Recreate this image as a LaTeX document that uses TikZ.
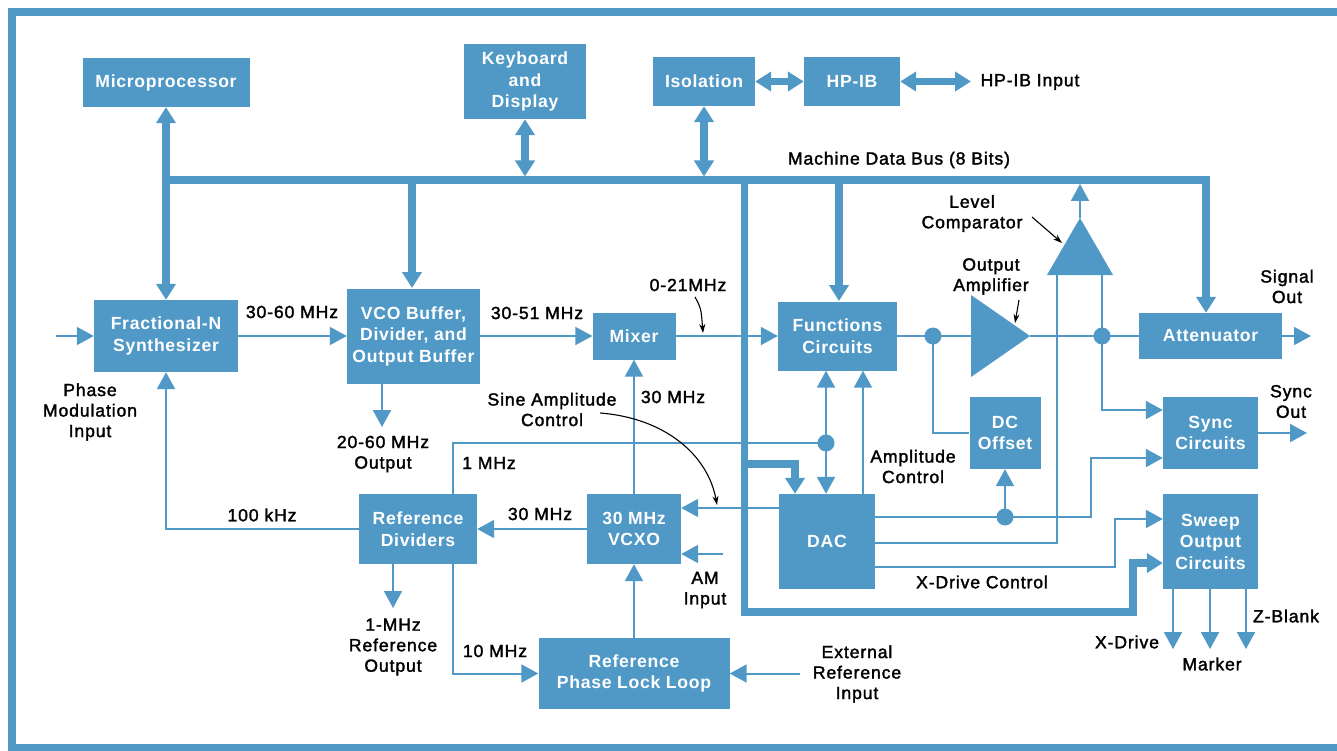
\documentclass[tikz,border=0pt]{standalone}
\usepackage{fontspec}
\setmainfont{Liberation Sans}
\newfontfamily\hplabfont[FakeBold=1.8,LetterSpace=5]{Liberation Sans}
\newfontfamily\hpboxfont[LetterSpace=4]{Liberation Sans}
\usetikzlibrary{arrows.meta}
\definecolor{hpblue}{RGB}{80,152,198}
\newcommand\hpbxf{\hpboxfont\fontsize{17.6}{21.5}\selectfont\bfseries}
\newcommand\hplbf{\hplabfont\fontsize{17.6}{20.5}\selectfont}
\begin{document}
\begin{tikzpicture}[x=1pt,y=-1pt,
  box/.style={fill=hpblue, text=white, font=\hpbxf, align=center, inner sep=0pt},
  lab/.style={font=\hplbf, align=center, inner sep=0pt, text=black},
  sig/.style={draw=hpblue, line width=2pt},
  arr/.style={sig, -{Triangle[length=17pt,width=18pt]}},
  bus/.style={draw=hpblue, line width=7.5pt},
  busarr/.style={bus, -{Triangle[length=16pt,width=19pt]}},
  dbl/.style={bus, {Triangle[length=16pt,width=19pt]}-{Triangle[length=16pt,width=19pt]}},
  dotn/.style={circle, fill=hpblue, minimum size=17pt, inner sep=0pt},
  note/.style={draw=black, line width=1.1pt, -{Stealth[length=9pt,width=6pt]}}
]
\useasboundingbox (0,0) rectangle (1337,751);
\fill[white] (0,0) rectangle (1337,751);
\begin{scope}
\clip (0,0) rectangle (1337,751);
\draw[hpblue, line width=8pt] (11.5,12) rectangle (1380,747.5);
\end{scope}

% boxes
\node[box, minimum width=167, minimum height=49] (micro) at (166,82.5) {Microprocessor};
\node[box, minimum width=122, minimum height=75] (kbd) at (525,81.5) {Keyboard\\and\\Display};
\node[box, minimum width=102, minimum height=49] (iso) at (704,81.5) {Isolation};
\node[box, minimum width=96, minimum height=49] (hpib) at (852,81.5) {HP-IB};
\node[box, minimum width=144, minimum height=72] (fracn) at (166,336) {Fractional-N\\Synthesizer};
\node[box, minimum width=133, minimum height=95] (vco) at (413.5,336) {VCO Buffer,\\Divider, and\\Output Buffer};
\node[box, minimum width=83, minimum height=47] (mixer) at (634,336) {Mixer};
\node[box, minimum width=119, minimum height=69] (func) at (837.5,336) {Functions\\Circuits};
\node[box, minimum width=143, minimum height=46] (atten) at (1210.5,336) {Attenuator};
\node[box, minimum width=71, minimum height=72] (dcoff) at (1005,433) {DC\\Offset};
\node[box, minimum width=95, minimum height=72] (sync) at (1210.5,433) {Sync\\Circuits};
\node[box, minimum width=118, minimum height=70] (refdiv) at (418,529) {Reference\\Dividers};
\node[box, minimum width=94, minimum height=70] (vcxo) at (634,529) {30 MHz\\VCXO};
\node[box, minimum width=96, minimum height=95] (dac) at (827,541.5) {DAC};
\node[box, minimum width=95, minimum height=95] (sweep) at (1210.5,541.5) {Sweep\\Output\\Circuits};
\node[box, minimum width=191, minimum height=71] (pll) at (634,673.5) {Reference\\Phase Lock Loop};

% triangles
\coordinate (ampA) at (971,295);
\coordinate (ampB) at (971,377);
\coordinate (ampT) at (1030,336);
\fill[hpblue] (ampA) -- (ampT) -- (ampB) -- cycle;
\coordinate (lcBL) at (1047,275);
\coordinate (lcBR) at (1113,275);
\coordinate (lcT) at (1080,218);
\fill[hpblue] (lcBL) -- (lcT) -- (lcBR) -- cycle;

% dots
\node[dotn] (d1) at (933,336) {};
\node[dotn] (d2) at (1102,336) {};
\node[dotn] (d3) at (1005,517) {};
\node[dotn] (d4) at (826,443) {};

% bus
\coordinate (busL) at (166,180);
\coordinate (busR) at (1206,180);
\draw[busarr] (busL) -- (busR) -- (busR |- atten.north);
\draw[dbl] (micro.south) -- (fracn.north);
\draw[busarr] (412,180) -- (412,288);
\draw[busarr] (839,180) -- (839,301);
\draw[dbl] (kbd.south) -- (525,176.5);
\draw[dbl] (iso.south) -- (704,176.5);
\draw[dbl] (iso.east) -- (hpib.west);
\coordinate (hpibin) at (971,81.5);
\draw[dbl] (hpib.east) -- (hpibin);
\coordinate (bv1) at (744.5,180);
\coordinate (bv2) at (744.5,612);
\coordinate (bv3) at (1133,612);
\coordinate (bv4) at (1133,563);
\draw[busarr] (bv1) -- (bv2) -- (bv3) -- (bv4) -- (bv4 -| sweep.west);
\coordinate (bd1) at (744.5,464);
\coordinate (bd2) at (795,464);
\draw[busarr] (bd1) -- (bd2) -- (bd2 |- dac.north);

% signal path
\coordinate (pmin) at (56,336);
\draw[arr] (pmin) -- (fracn.west);
\draw[arr] (fracn.east) -- (vco.west);
\coordinate (vcoout) at (382,427);
\draw[arr] (vcoout |- vco.south) -- (vcoout);
\draw[arr] (vco.east) -- (mixer.west);
\draw[arr] (mixer.east) -- (func.west);
\draw[sig] (func.east) -- (d1.center) -- (ampA |- d1);
\coordinate (dcx) at (933,433);
\draw[sig] (d1.center) -- (dcx) -- (dcoff.west);
\draw[sig] (ampT) -- (d2.center) -- (atten.west);
\coordinate (sigout) at (1311,336);
\draw[arr] (atten.east) -- (sigout);
\coordinate (syncout) at (1307,433);
\draw[arr] (sync.east) -- (syncout);

% level comparator
\coordinate (lcL) at (1057,275);
\coordinate (lcR) at (1102,275);
\draw[arr] (lcT) -- (1080,184);
\coordinate (lcL2) at (1057,543);
\draw[sig] (lcL) -- (lcL2) -- (lcL2 -| dac.east);
\coordinate (lcR2) at (1102,410);
\draw[arr] (lcR) -- (lcR2) -- (lcR2 -| sync.west);

% DAC outputs
\coordinate (o1) at (1091,517);
\coordinate (o1b) at (1091,458);
\draw[arr] (d3.center -| dac.east) -- (d3.center) -- (o1) -- (o1b) -- (o1b -| sync.west);
\draw[arr] (d3.center) -- (dcoff.south);
\coordinate (o3) at (1115,567);
\coordinate (o3b) at (1115,519);
\draw[arr] (o3 -| dac.east) -- (o3) -- (o3b) -- (o3b -| sweep.west);
\coordinate (dacvc) at (779,508);
\draw[arr] (dacvc) -- (dacvc -| vcxo.east);
\draw[arr] (dac.north -| 863,0) -- (func.south -| 863,0);

% sweep outputs
\coordinate (sx1) at (1173,649);
\coordinate (sx2) at (1210,649);
\coordinate (sx3) at (1246,649);
\draw[arr] (sx1 |- sweep.south) -- (sx1);
\draw[arr] (sx2 |- sweep.south) -- (sx2);
\draw[arr] (sx3 |- sweep.south) -- (sx3);

% reference section
\draw[arr] (refdiv.west) -- (refdiv.west -| fracn.south) -- (fracn.south);
\coordinate (refout) at (393,608);
\draw[arr] (refout |- refdiv.south) -- (refout);
\draw[arr] (vcxo.west) -- (refdiv.east);
\coordinate (m1a) at (453,443);
\draw[sig] (refdiv.north -| m1a) -- (m1a) -- (d4.center);
\draw[arr] (d4.center) -- (d4.center |- func.south);
\draw[arr] (d4.center) -- (d4.center |- dac.north);
\coordinate (m10) at (453,673.5);
\draw[arr] (refdiv.south -| m10) -- (m10) -- (pll.west);
\draw[arr] (pll.north) -- (vcxo.south);
\draw[arr] (vcxo.north) -- (mixer.south);
\coordinate (extin) at (800,673.5);
\draw[arr] (extin) -- (pll.east);
\coordinate (amin) at (723,554);
\draw[arr] (amin) -- (amin -| vcxo.east);

% labels
\node[lab] (lbus) at (899,160) {Machine Data Bus (8 Bits)};
\node[lab] (lhpin) at (1030,82) {HP-IB Input};
\node[lab] (lpm) at (90,412) {Phase\\Modulation\\Input};
\node[lab] (l3060) at (292,312) {30-60 MHz};
\node[lab] (l3051) at (537,313) {30-51 MHz};
\node[lab] (l021) at (688,285) {0-21MHz};
\node[lab] (l2060) at (383,454) {20-60 MHz\\Output};
\node[lab] (lsine) at (552,409.5) {Sine Amplitude\\Control};
\node[lab] (l30a) at (673,397) {30 MHz};
\node[lab] (l1m) at (489,463) {1 MHz};
\node[lab] (l100k) at (262,515) {100 kHz};
\node[lab] (l30b) at (540,514) {30 MHz};
\node[lab] (l1mref) at (393,647) {1-MHz\\Reference\\Output};
\node[lab] (l10m) at (495,651) {10 MHz};
\node[lab] (lam) at (705,590) {AM\\Input};
\node[lab] (lext) at (857,674) {External\\Reference\\Input};
\node[lab] (lampc) at (913,466.5) {Amplitude\\Control};
\node[lab] (lxdc) at (982,582) {X-Drive Control};
\node[lab] (llc) at (972,213.5) {Level\\Comparator};
\node[lab] (loa) at (991,276.5) {Output\\Amplifier};
\node[lab] (lso) at (1287,286.5) {Signal\\Out};
\node[lab] (lsyo) at (1291,401.5) {Sync\\Out};
\node[lab] (lxd) at (1127,642) {X-Drive};
\node[lab] (lmk) at (1212,664) {Marker};
\node[lab] (lzb) at (1286,616) {Z-Blank};

% annotation arrows
\coordinate (n1a) at (695,297); \coordinate (n1b) at (703,333);
\draw[note] (n1a) .. controls (701,308) .. (n1b);
\coordinate (n2a) at (600,413); \coordinate (n2b) at (717,505);
\draw[note] (n2a) .. controls (665,418) and (708,455) .. (n2b);
\coordinate (n3a) at (1032,217); \coordinate (n3b) at (1062,243);
\draw[note] (n3a) -- (n3b);
\coordinate (n4a) at (1019,300); \coordinate (n4b) at (1015,323);
\draw[note] (n4a) -- (n4b);
\end{tikzpicture}
\end{document}
